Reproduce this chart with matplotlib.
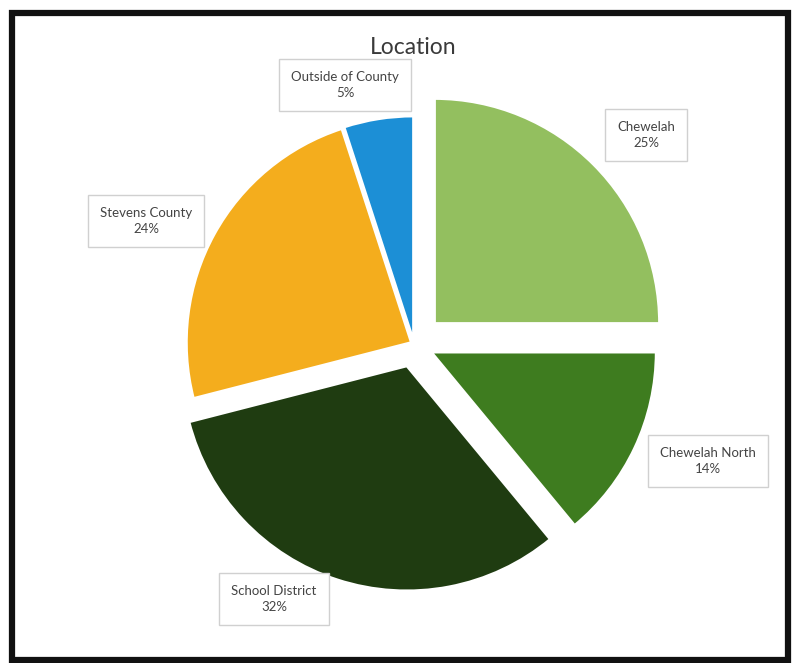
import matplotlib.pyplot as plt
from matplotlib.patches import Rectangle

# share of respondents by location
locations = ['Chewelah', 'Chewelah North', 'School District', 'Stevens County', 'Outside of County']
shares = [25, 14, 32, 24, 5]
colors = ['#93bf5f', '#3e7c1f', '#1f3c11', '#f4ad1d', '#1c8fd6']
# slice offsets in pixels (pie explode is in data units here)
explode = [29, 19, 23, 3, 3]

# label boxes, placed around the pie (pixel positions, y measured from the top)
label_xy = [(646, 135), (708, 461), (274, 599), (146, 221), (345, 85)]

W, H = 794, 663
fig = plt.figure(figsize=(W / 100, H / 100), dpi=100)
ax = fig.add_axes([0, 0, 1, 1])

ax.pie(shares, colors=colors, explode=explode, startangle=90, counterclock=False,
       radius=225, center=(414, H - 344), frame=True,
       wedgeprops=dict(edgecolor='white', linewidth=2))
ax.set_xlim(0, W)
ax.set_ylim(0, H)
ax.set_aspect('equal')
ax.axis('off')

for name, val, (x, y) in zip(locations, shares, label_xy):
    ax.text(x, H - y, f'{name}\n{val}%', ha='center', va='center', fontsize=9.5,
            family='Lato', color='#444444', linespacing=1.45,
            bbox=dict(boxstyle='square,pad=0.9', facecolor='white',
                      edgecolor='#d0d0d0', linewidth=1))

ax.text(413, H - 48, 'Location', ha='center', va='center', fontsize=16.5,
        family='Lato', color='#3a3a3a')

# black frame around the chart
ax.add_patch(Rectangle((12, 3), 776, 647, fill=False, edgecolor='#111111', linewidth=4.5))

fig.savefig('out.png', dpi=100)
